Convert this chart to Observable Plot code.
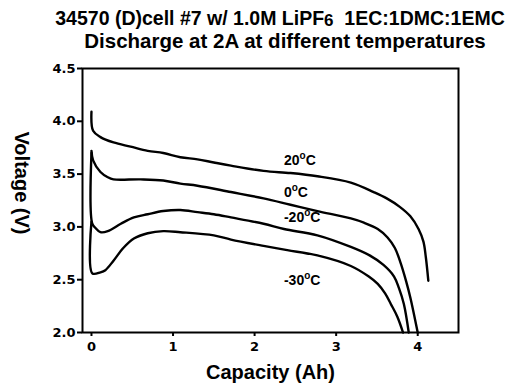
<!DOCTYPE html>
<html>
<head>
<meta charset="utf-8">
<script src="https://cdn.jsdelivr.net/npm/d3@7"></script>
<script src="https://cdn.jsdelivr.net/npm/@observablehq/plot@0.6"></script>
<style>
  html, body { margin: 0; padding: 0; background: #fff; }
  #wrap { width: 522px; height: 384px; position: relative; overflow: hidden; }
  .title { height: 46px; position: relative;
    font-family: "Liberation Sans", Arial, sans-serif; font-weight: bold; color: #000; }
  .title div { position: absolute; left: 0; width: 522px; box-sizing: border-box;
    text-align: center; white-space: nowrap; line-height: 20px; }
  .l1 { top: 8px; font-size: 19.5px; padding-left: 38px; }
  .l2 { top: 31px; font-size: 20.5px; padding-left: 48px; }
  .sub { position: relative; top: 1px; font-size: 17px; }
  svg { display: block; overflow: visible; }
</style>
</head>
<body>
<div id="wrap">
  <div class="title">
    <div class="l1">34570 (D)cell #7 w/ 1.0M LiPF<span class="sub">6</span>&nbsp; 1EC:1DMC:1EMC</div>
    <div class="l2">Discharge at 2A at different temperatures</div>
  </div>
  <div id="chart"></div>
</div>
<script>
// ---- data ----
const series = ["20°C", "0°C", "-20°C", "-30°C"];

const cap20  = [0, 0.02, 0.11, 0.27, 0.48, 0.69, 0.88, 1.09, 1.30, 1.50, 1.71, 2.11, 2.44, 2.77, 3.18, 3.46, 3.62, 3.78, 3.91, 4.01, 4.07, 4.10, 4.13];
const volt20 = [4.09, 3.91, 3.85, 3.80, 3.76, 3.72, 3.70, 3.66, 3.64, 3.61, 3.58, 3.53, 3.51, 3.48, 3.42, 3.33, 3.27, 3.19, 3.10, 2.98, 2.86, 2.71, 2.49];

const cap0   = [0, 0.02, 0.11, 0.20, 0.27, 0.60, 0.88, 1.09, 1.30, 1.71, 2.11, 2.44, 2.77, 3.18, 3.34, 3.51, 3.63, 3.72, 3.79, 3.86, 3.91, 4.00];
const volt0  = [3.72, 3.63, 3.52, 3.47, 3.45, 3.45, 3.44, 3.41, 3.39, 3.33, 3.27, 3.21, 3.15, 3.08, 3.04, 2.98, 2.90, 2.80, 2.66, 2.48, 2.33, 2.00];

const capM20  = [0, 0.01, 0.05, 0.11, 0.20, 0.36, 0.52, 0.69, 0.88, 1.09, 1.30, 1.50, 1.71, 2.11, 2.36, 2.77, 3.18, 3.41, 3.58, 3.71, 3.77, 3.83, 3.89];
const voltM20 = [3.70, 3.03, 2.99, 2.95, 2.96, 3.03, 3.09, 3.12, 3.15, 3.16, 3.14, 3.12, 3.09, 3.03, 2.98, 2.92, 2.81, 2.73, 2.64, 2.53, 2.42, 2.27, 2.00];

const capM30  = [0, 0.01, 0.11, 0.17, 0.27, 0.39, 0.52, 0.69, 0.88, 1.09, 1.50, 1.71, 2.11, 2.40, 2.77, 3.18, 3.40, 3.51, 3.60, 3.67, 3.75, 3.82];
const voltM30 = [3.05, 2.56, 2.57, 2.59, 2.68, 2.80, 2.89, 2.94, 2.96, 2.95, 2.92, 2.88, 2.82, 2.78, 2.73, 2.63, 2.53, 2.46, 2.37, 2.27, 2.15, 2.00];

const xTicks = [0, 1, 2, 3, 4];
const yTicks = [2.0, 2.5, 3.0, 3.5, 4.0, 4.5];

// label anchor positions (data units)
const labelCap  = [2.36, 2.36, 2.36, 2.36];
const labelVolt = [3.63, 3.33, 3.09, 2.49];

const xLabel = "Capacity (Ah)";
const yLabel = "Voltage (V)";

// ---- build table ----
const caps = [cap20, cap0, capM20, capM30];
const volts = [volt20, volt0, voltM20, voltM30];
const rows = [];
series.forEach((s, i) => caps[i].forEach((c, j) => rows.push({series: s, cap: c, volt: volts[i][j]})));
const labels = series.map((s, i) => ({text: s, cap: labelCap[i], volt: labelVolt[i]}));

const tickFont = {fontFamily: "DejaVu Sans", fontWeight: "bold", fontSize: 13};
const labFont = {fontSize: 20, fontWeight: "bold", fontFamily: "Liberation Sans, Arial, sans-serif", fill: "#000"};

const plot = Plot.plot({
  width: 522,
  height: 338,
  marginLeft: 82,
  marginRight: 64,
  marginTop: 22,
  marginBottom: 52,
  style: {background: "#fff", color: "#000", fontFamily: "Liberation Sans, Arial, sans-serif", overflow: "visible"},
  x: {domain: [-0.11, 4.5]},
  y: {domain: [2.0, 4.5]},
  marks: [
    Plot.axisY(yTicks, {tickFormat: d => d.toFixed(1), tickSize: 5, tickPadding: 2, strokeWidth: 2, label: null, ...tickFont}),
    Plot.axisX(xTicks, {tickFormat: d => String(d), tickSize: 4, tickPadding: 5, strokeWidth: 2, label: null, ...tickFont}),
    Plot.frame({stroke: "#000", strokeWidth: 2}),
    Plot.line(rows, {x: "cap", y: "volt", z: "series", stroke: "#000", strokeWidth: 2.4, curve: "catmull-rom"}),
    Plot.text(labels, {x: "cap", y: "volt", text: "text", textAnchor: "start", lineAnchor: "middle", fontSize: 14, fontWeight: "bold", fontFamily: "Liberation Sans, Arial, sans-serif", fill: "#000"}),
    Plot.text([xLabel], {frameAnchor: "bottom", dy: 46, ...labFont})
  ]
});

// y-axis title, rotated to read top-to-bottom as in the reference
d3.select(plot).append("text")
  .attr("transform", "translate(22,137) rotate(90)")
  .attr("text-anchor", "middle")
  .attr("dominant-baseline", "central")
  .attr("font-family", "Liberation Sans, Arial, sans-serif")
  .attr("font-weight", "bold")
  .attr("font-size", 20)
  .attr("fill", "#000")
  .text(yLabel);

// superscript the degree sign as a small raised "o"
d3.select(plot).selectAll("text").each(function() {
  const t = this.textContent;
  if (t.includes("°") && !this.querySelector("tspan")) {
    const [a, b] = t.split("°");
    const sel = d3.select(this);
    sel.text(null);
    sel.append("tspan").text(a);
    sel.append("tspan").attr("font-size", 10).attr("dy", -6).text("o");
    sel.append("tspan").attr("dy", 6).text(b);
  }
});

document.getElementById("chart").appendChild(plot);
</script>
</body>
</html>
